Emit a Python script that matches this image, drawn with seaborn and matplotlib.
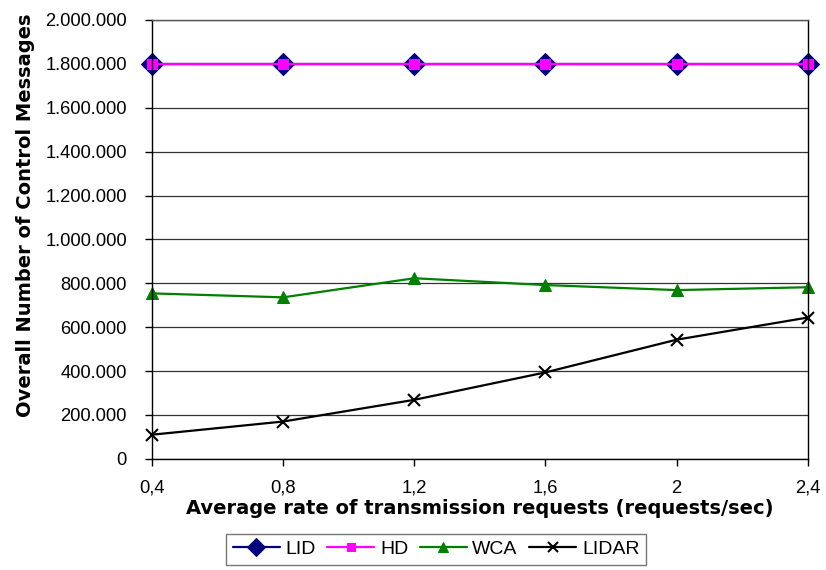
import matplotlib
matplotlib.use("Agg")
import matplotlib.pyplot as plt
from matplotlib.ticker import FuncFormatter
import seaborn as sns
import pandas as pd

rates = [0.4, 0.8, 1.2, 1.6, 2.0, 2.4]
rate_labels = ["0,4", "0,8", "1,2", "1,6", "2", "2,4"]
lid = [1800000, 1800000, 1800000, 1800000, 1800000, 1800000]
hd = [1800000, 1800000, 1800000, 1800000, 1800000, 1800000]
wca = [754000, 736000, 823000, 792000, 769000, 782000]
lidar = [110000, 170000, 269000, 394000, 543000, 644000]

series_names = ["LID", "HD", "WCA", "LIDAR"]
series_values = [lid, hd, wca, lidar]

sns.set_theme(style="white")
plt.rcParams["font.family"] = ["Liberation Sans", "DejaVu Sans"]
plt.rcParams["text.color"] = "black"

df = pd.DataFrame({
    "rate": rates * len(series_names),
    "messages": [v for vals in series_values for v in vals],
    "protocol": [n for n in series_names for _ in rates],
})

styles = {
    "LID": dict(color="#000080", marker="D", markersize=11, mfc="#000080", mec="#000080"),
    "HD": dict(color="#FF00FF", marker="s", markersize=7, mfc="#FF00FF", mec="#FF00FF"),
    "WCA": dict(color="#008000", marker="^", markersize=9, mfc="#008000", mec="#008000"),
    "LIDAR": dict(color="black", marker="x", markersize=9, mec="black", mew=1.5),
}

fig = plt.figure(figsize=(8.26, 5.70), dpi=100)
ax = fig.add_axes([0.184, 0.195, 0.794, 0.770])

for name in series_names:
    sub = df[df["protocol"] == name]
    st = styles[name]
    sns.lineplot(data=sub, x="rate", y="messages", ax=ax, label=name,
                 linewidth=1.6, clip_on=False, **st)

ax.set_xlim(0.4, 2.4)
ax.set_ylim(0, 2000000)
ax.set_xticks(rates)
ax.set_xticklabels(rate_labels)
ax.set_yticks(range(0, 2000001, 200000))
ax.yaxis.set_major_formatter(FuncFormatter(lambda v, p: f"{int(v):,}".replace(",", ".")))

ax.yaxis.grid(True, color="#333333", linewidth=0.9)
ax.xaxis.grid(False)
ax.set_axisbelow(True)

for side in ["left", "bottom", "right"]:
    ax.spines[side].set_visible(True)
    ax.spines[side].set_color("black")
    ax.spines[side].set_linewidth(1.0)
ax.spines["top"].set_color("#555555")
ax.spines["top"].set_linewidth(1.0)

ax.tick_params(axis="both", which="major", direction="out", length=5, width=1,
               color="black", labelsize=13.2, labelcolor="black")
ax.tick_params(axis="y", left=True, pad=13)
ax.tick_params(axis="x", bottom=True, pad=10)

label_font = dict(family=["DejaVu Sans"], size=14, weight="bold", color="black")
ax.set_xlabel("Average rate of transmission requests (requests/sec)",
              fontdict=label_font)
ax.set_ylabel("Overall Number of Control Messages", fontdict=label_font)
ax.xaxis.set_label_coords(0.5, -0.091)
ax.yaxis.set_label_coords(-0.178, 0.556)

handles, labels = ax.get_legend_handles_labels()
ax.get_legend().remove()
leg = fig.legend(handles, labels, loc="upper center", bbox_to_anchor=(0.528, 0.064),
                 ncol=4, frameon=True, fancybox=False, edgecolor="#555555",
                 fontsize=14, handlelength=2.4, handletextpad=0.3,
                 columnspacing=0.6, borderpad=0.35, borderaxespad=0,
                 labelcolor="black", markerscale=0.85)
leg.get_frame().set_linewidth(1.0)

fig.savefig("out.png", dpi=100)
